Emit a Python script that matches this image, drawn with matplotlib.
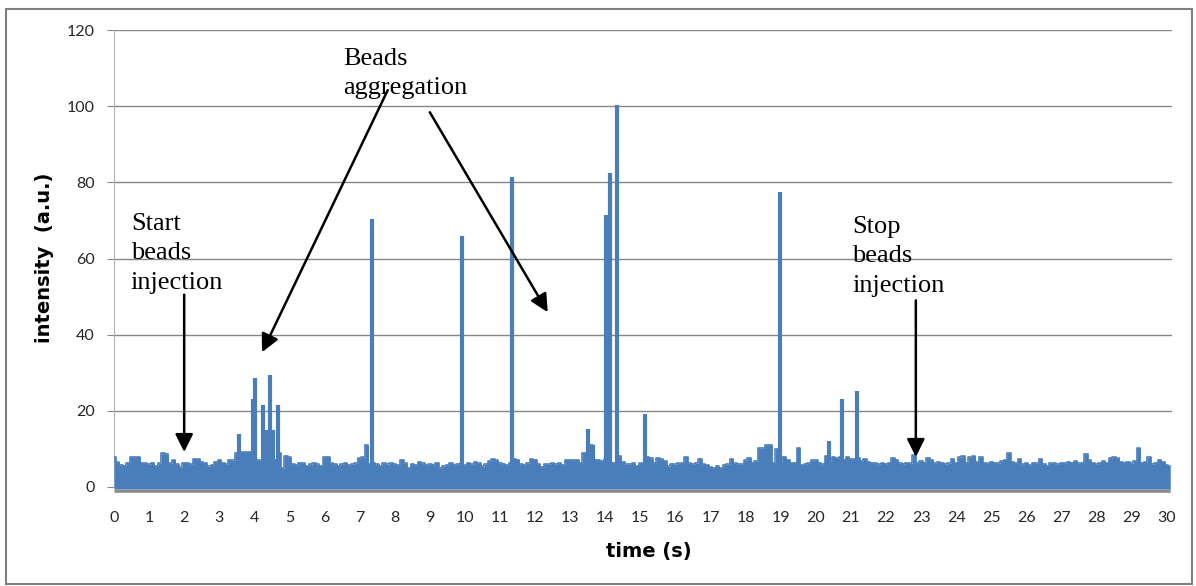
import matplotlib
matplotlib.use("Agg")
import matplotlib.pyplot as plt
import numpy as np
from matplotlib.patches import Rectangle

# noise floor, upper envelope sampled every 0.1 s (0.0 .. 30.1 s)
noise_top = [
    7.8, 6.5, 5.8, 5.6, 6.4, 7.9, 7.9, 8.0, 6.4, 6.2,
    6.0, 6.4, 5.6, 6.2, 8.8, 8.6, 6.2, 7.2, 6.0, 5.2,
    6.4, 6.2, 6.0, 7.4, 7.3, 6.6, 6.4, 5.4, 5.8, 6.6,
    7.2, 6.4, 6.0, 7.2, 7.0, 9.0, 9.2, 9.2, 9.2, 9.2,
    9.0, 7.0, 6.5, 9.2, 9.0, 7.0, 7.2, 9.0, 5.0, 8.2,
    7.8, 6.0, 5.8, 6.4, 6.2, 5.6, 6.0, 6.4, 6.0, 5.6,
    7.9, 8.0, 6.2, 6.0, 5.6, 6.0, 6.4, 5.8, 6.0, 6.2,
    7.6, 7.8, 11.0, 6.0, 6.2, 6.0, 5.6, 6.2, 6.0, 6.2,
    6.0, 5.8, 7.2, 6.2, 5.0, 6.0, 5.8, 6.6, 6.2, 5.8,
    6.0, 5.8, 6.4, 5.0, 5.4, 5.8, 6.2, 5.8, 6.0, 6.2,
    5.8, 6.4, 6.0, 6.6, 6.2, 5.4, 6.0, 6.8, 7.4, 7.0,
    6.2, 6.0, 5.8, 6.4, 7.4, 7.2, 6.0, 5.8, 6.2, 7.4,
    7.2, 6.0, 5.2, 6.0, 6.0, 6.2, 6.0, 6.2, 5.8, 7.2,
    7.2, 7.0, 7.2, 6.4, 9.0, 7.0, 11.0, 7.2, 7.0, 6.8,
    7.4, 7.0, 6.4, 6.2, 8.2, 6.6, 6.0, 6.0, 6.2, 5.6,
    6.2, 6.0, 8.0, 7.6, 6.4, 7.6, 7.4, 6.8, 5.4, 6.0,
    6.0, 6.2, 6.4, 8.0, 6.2, 6.0, 6.2, 7.4, 6.0, 5.8,
    5.2, 5.0, 5.4, 5.0, 5.8, 6.0, 7.4, 6.2, 6.0, 6.0,
    7.0, 7.6, 6.4, 6.8, 10.2, 10.2, 11.0, 11.0, 6.4, 10.0,
    6.4, 8.0, 7.2, 6.4, 6.4, 10.2, 5.8, 6.0, 6.2, 7.0,
    7.0, 6.2, 6.0, 8.2, 6.4, 7.8, 7.6, 8.0, 7.2, 8.0,
    7.4, 7.4, 7.6, 6.8, 7.4, 6.6, 6.4, 6.2, 6.0, 6.4,
    6.0, 6.4, 7.6, 7.2, 6.2, 6.0, 6.4, 6.2, 8.4, 6.4,
    6.8, 6.4, 7.6, 7.0, 6.2, 6.6, 6.4, 6.0, 6.2, 7.4,
    6.4, 7.8, 8.2, 6.4, 7.8, 8.2, 6.6, 7.8, 6.4, 6.2,
    6.6, 6.4, 6.2, 6.8, 7.2, 8.8, 6.6, 6.2, 7.4, 6.0,
    6.2, 5.8, 6.4, 6.2, 7.4, 6.0, 5.6, 6.2, 6.4, 6.0,
    6.4, 6.2, 6.6, 6.4, 6.8, 6.2, 6.4, 8.6, 7.0, 6.4,
    6.0, 6.4, 6.8, 6.4, 7.6, 7.8, 7.6, 6.6, 6.4, 6.6,
    6.2, 6.8, 10.2, 6.4, 6.6, 7.8, 6.0, 6.4, 7.2, 6.6,
    5.8, 5.4,
]
noise_t = np.arange(len(noise_top)) * 0.1

# single-sample bursts (time in s, intensity in a.u.)
spike_t = [3.55, 3.97, 4.02, 4.25, 4.32, 4.45, 4.52, 4.67, 7.35, 9.91,
           11.34, 13.50, 13.65, 14.02, 14.13, 14.33, 15.13, 18.97,
           20.37, 20.74, 21.17]
spike_v = [14, 23, 28.5, 21.5, 15, 29.5, 15, 21.5, 70.3, 65.9,
           81.4, 15.3, 11, 71.4, 82.4, 100.3, 19.2, 77.4,
           12, 23.1, 25.2]

blue = "#4a7ebb"

fig = plt.figure(figsize=(11.96, 5.86), dpi=100)
ax = fig.add_axes([114 / 1196, 99 / 586, 1058 / 1196, 457 / 586])

ax.fill_between(noise_t, -1.4, -0.5, step="mid", color="#8c8c8c",
                lw=0, clip_on=False, zorder=2)
ax.fill_between(noise_t, -0.5, noise_top, step="mid", color=blue,
                lw=0, clip_on=False, zorder=3)
ax.plot(noise_t, noise_top, drawstyle="steps-mid", color=blue, lw=1.2,
        zorder=3)
ax.vlines(spike_t, 0, spike_v, color=blue, lw=3.0, zorder=3)

ax.set_xlim(0, 30.15)
ax.set_ylim(0, 120)
ax.set_xticks(range(0, 31))
ax.set_yticks(range(0, 121, 20))
ax.grid(axis="y", color="#868686", lw=1.0)
ax.set_axisbelow(True)
for side in ["top", "right", "bottom"]:
    ax.spines[side].set_visible(False)
ax.spines["left"].set_color("#b4b4b4")
ax.tick_params(axis="y", length=5, color="#868686", pad=9,
               labelsize=11.5, labelcolor="#262626")
ax.tick_params(axis="x", length=0, pad=17, labelsize=11.5,
               labelcolor="#262626")
for lab in ax.get_xticklabels() + ax.get_yticklabels():
    lab.set_family("Lato")

fig.text(45 / 1196, 1 - 258 / 586, "intensity  (a.u.)", rotation=90,
         ha="center", va="center", fontsize=14, fontweight="bold")
fig.text(649 / 1196, 1 - 551 / 586, "time (s)", ha="center",
         va="center", fontsize=14, fontweight="bold")

note = dict(family="Liberation Serif", fontsize=19, ha="left", va="top",
            linespacing=1.45)
ax.text(0.48, 72.0, "Start\nbeads\ninjection", **note)
ax.text(6.52, 115.4, "Beads\naggregation", **note)
ax.text(21.03, 71.2, "Stop\nbeads\ninjection", **note)

arrow = dict(arrowstyle="-|>,head_length=0.4,head_width=0.2",
             mutation_scale=27, lw=1.8, color="black",
             shrinkA=0, shrinkB=0)
ax.annotate("", xy=(2.0, 9.2), xytext=(2.0, 50.5), arrowprops=arrow)
ax.annotate("", xy=(22.85, 7.9), xytext=(22.85, 49), arrowprops=arrow)
ax.annotate("", xy=(4.22, 35.4), xytext=(7.8, 104.2), arrowprops=arrow)
ax.annotate("", xy=(12.36, 45.9), xytext=(9.0, 98.4), arrowprops=arrow)

fig.add_artist(Rectangle((6 / 1196, 2 / 586), 1186 / 1196, 575 / 586,
                         transform=fig.transFigure, fill=False,
                         edgecolor="#7f7f7f", lw=1.5))

fig.savefig("out.png", dpi=100)
